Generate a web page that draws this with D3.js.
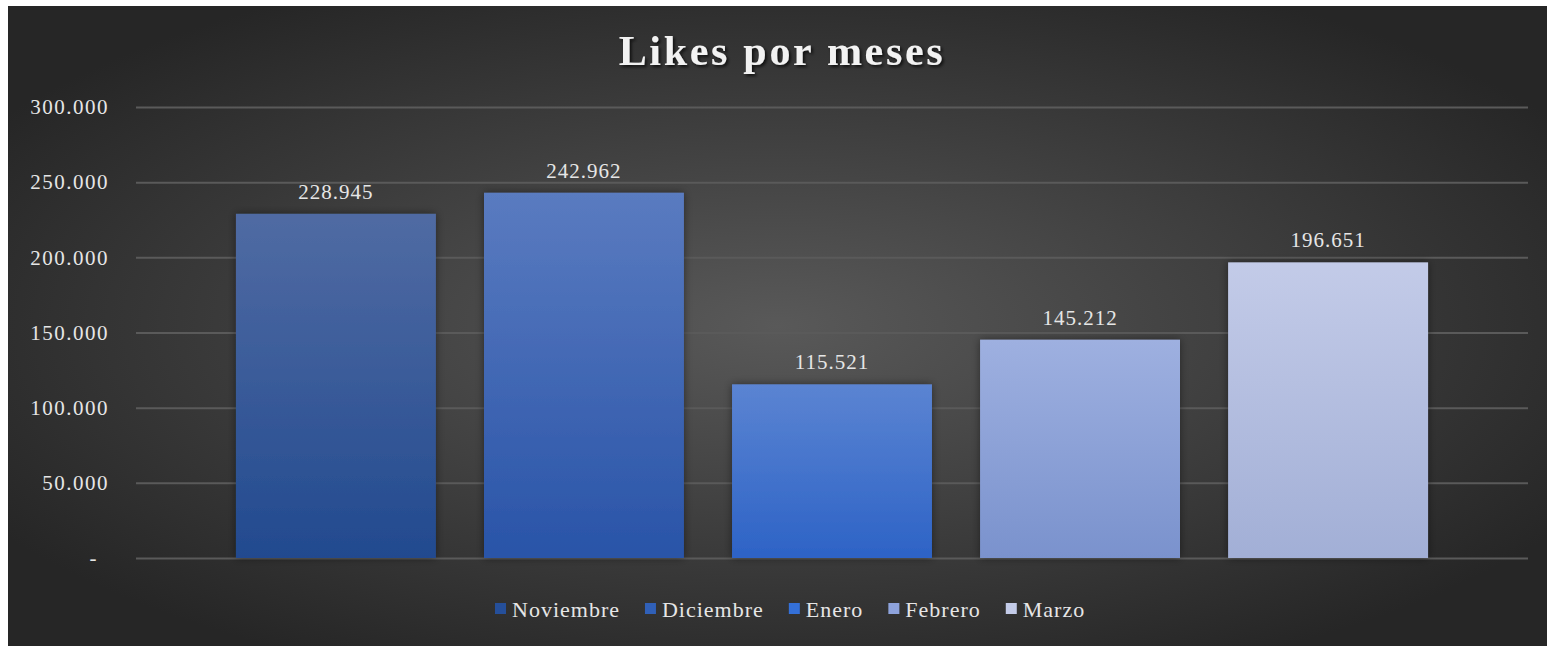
<!DOCTYPE html>
<html>
<head>
<meta charset="utf-8">
<script src="https://cdn.jsdelivr.net/npm/d3@7"></script>
<style>
  body { margin: 0; background: #fff; }
  text { font-family: "Liberation Serif", "Times New Roman", serif; }
</style>
</head>
<body>
<div id="chart"></div>
<script>
const width = 1547;
const height = 646;

// data
const months = ["Noviembre", "Diciembre", "Enero", "Febrero", "Marzo"];
const likes = [228945, 242962, 115521, 145212, 196651];
const yTicks = [0, 50000, 100000, 150000, 200000, 250000, 300000];
const barTop = ["#506ba3", "#5a7bc0", "#5b84d2", "#9eb0e0", "#c3cbe8"];
const barBottom = ["#224a8f", "#2954a8", "#2d63c6", "#7a92cd", "#a2afd6"];
const legendColors = ["#254f9a", "#3060b8", "#3470d8", "#8ea3dc", "#c3cbe8"];

const plot = { left: 136, right: 1528, top: 107, bottom: 558 };

const svg = d3.select("#chart")
    .append("svg")
    .attr("width", width)
    .attr("height", height);

const defs = svg.append("defs");

const bg = defs.append("radialGradient")
    .attr("id", "bg")
    .attr("cx", "50%").attr("cy", "50%").attr("r", "60%");
bg.append("stop").attr("offset", "0%").attr("stop-color", "#595959");
bg.append("stop").attr("offset", "100%").attr("stop-color", "#262626");

months.forEach((m, i) => {
    const g = defs.append("linearGradient")
        .attr("id", "bar" + i)
        .attr("x1", 0).attr("y1", 0).attr("x2", 0).attr("y2", 1);
    g.append("stop").attr("offset", "0%").attr("stop-color", barTop[i]);
    g.append("stop").attr("offset", "100%").attr("stop-color", barBottom[i]);
});

const shadow = defs.append("filter").attr("id", "tshadow")
    .attr("x", "-10%").attr("y", "-30%").attr("width", "120%").attr("height", "160%");
shadow.append("feDropShadow")
    .attr("dx", 2).attr("dy", 2).attr("stdDeviation", 1.5)
    .attr("flood-color", "#000").attr("flood-opacity", 0.7);

const barShadow = defs.append("filter").attr("id", "bshadow")
    .attr("x", "-10%").attr("y", "-10%").attr("width", "120%").attr("height", "120%");
barShadow.append("feDropShadow")
    .attr("dx", 0).attr("dy", 0).attr("stdDeviation", 4)
    .attr("flood-color", "#000").attr("flood-opacity", 0.45);

// chart area
svg.append("rect")
    .attr("x", 8).attr("y", 6)
    .attr("width", width - 8).attr("height", height - 6)
    .attr("fill", "url(#bg)");

const x = d3.scaleBand()
    .domain(months)
    .range([plot.left, plot.right])
    .paddingInner(0.194)
    .paddingOuter(0.403);

const y = d3.scaleLinear()
    .domain([0, 300000])
    .range([plot.bottom, plot.top]);

const fmt = v => v === 0 ? "-" : d3.format(",")(v).replace(/,/g, ".");

// gridlines + y labels
const yAxis = svg.append("g")
    .attr("transform", `translate(${plot.left},0)`)
    .call(d3.axisLeft(y).tickValues(yTicks).tickFormat(fmt)
        .tickSize(-(plot.right - plot.left)).tickPadding(27));
yAxis.select(".domain").remove();
yAxis.attr("font-family", null);
yAxis.selectAll(".tick line")
    .attr("stroke", "#5a5a5a")
    .attr("stroke-width", 2);
yAxis.selectAll(".tick text")
    .attr("fill", "#e6e6e6")
    .style("font-size", "21px")
    .style("letter-spacing", "1.5px");
yAxis.selectAll(".tick").filter(d => d === 0).select("text").attr("x", -38);

// bars
svg.append("g").selectAll("rect")
    .data(months)
    .join("rect")
    .attr("x", d => x(d))
    .attr("y", (d, i) => y(likes[i]))
    .attr("width", x.bandwidth())
    .attr("height", (d, i) => y(0) - y(likes[i]))
    .attr("fill", (d, i) => `url(#bar${i})`)
    .attr("filter", "url(#bshadow)");

// value labels
svg.append("g").selectAll("text")
    .data(months)
    .join("text")
    .attr("x", d => x(d) + x.bandwidth() / 2)
    .attr("y", (d, i) => y(likes[i]) - 15)
    .attr("text-anchor", "middle")
    .attr("fill", "#e6e6e6")
    .style("font-size", "21px")
    .style("letter-spacing", "1px")
    .text((d, i) => fmt(likes[i]));

// title
svg.append("text")
    .attr("x", 782)
    .attr("y", 65)
    .attr("text-anchor", "middle")
    .attr("fill", "#f2f2f2")
    .attr("filter", "url(#tshadow)")
    .style("font-size", "42px")
    .style("font-weight", "bold")
    .style("letter-spacing", "2.7px")
    .text("Likes por meses");

// legend
const legend = svg.append("g").attr("transform", "translate(495,0)");
let lx = 0;
months.forEach((m, i) => {
    legend.append("rect")
        .attr("x", lx).attr("y", 603)
        .attr("width", 11).attr("height", 11)
        .attr("fill", legendColors[i]);
    const t = legend.append("text")
        .attr("x", lx + 17).attr("y", 617)
        .attr("fill", "#e6e6e6")
        .style("font-size", "22px")
        .style("letter-spacing", "1px")
        .text(m);
    lx += 17 + t.node().getComputedTextLength() + 25;
});
</script>
</body>
</html>
